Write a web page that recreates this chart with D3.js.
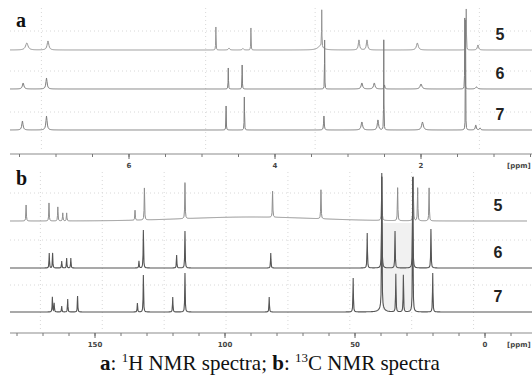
<!DOCTYPE html>
<html><head><meta charset="utf-8">
<script src="https://cdn.jsdelivr.net/npm/d3@7"></script>
<style>body{margin:0;background:#fff}svg{display:block}</style>
</head><body><svg id="c" width="532" height="378"></svg>
<script>
// ---------- data ----------
const spectrumLabels = ["5", "6", "7"];
const hTickLabels = [6, 4, 2];
const hMinorTicks = [7.5, 7, 6.5, 6, 5.5, 5, 4.5, 4, 3.5, 3, 2.5, 2, 1.5, 1, 0.5];
const cTickLabels = [150, 100, 50, 0];
const cMinorTicks = [180, 170, 160, 150, 140, 130, 120, 110, 100, 90, 80, 70, 60, 50, 40, 30, 20, 10, 0, -10];

// peaks: [ppm, relative intensity, half-width (ppm)]
const h1Spec5 = [[7.40, 7, 0.02], [7.11, 9, 0.014], [4.81, 23, 0.0025], [4.63, 2, 0.01], [4.44, 1.5, 0.01],
  [4.33, 22, 0.0025], [3.36, 37, 0.0025], [3.38, 4, 0.04], [2.85, 10, 0.01], [2.74, 10, 0.01],
  [2.05, 7, 0.015], [1.38, 41, 0.0025], [1.22, 5, 0.01]];
const h1Spec6 = [[7.45, 6, 0.012], [7.13, 11, 0.01], [4.64, 21, 0.0025], [4.45, 24, 0.0025],
  [3.32, 49, 0.002], [2.81, 6, 0.012], [2.64, 6, 0.012], [2.50, 4, 0.006], [2.00, 5, 0.015],
  [1.40, 71, 0.002], [1.24, 2, 0.015]];
const h1Spec7 = [[7.46, 9, 0.01], [7.13, 14, 0.01], [4.67, 24, 0.0025], [4.42, 33, 0.0025],
  [3.33, 14, 0.005], [2.81, 8, 0.012], [2.59, 10, 0.01], [2.51, 90, 0.002], [1.98, 8, 0.014],
  [1.39, 110, 0.002], [1.25, 5, 0.008], [1.19, 2, 0.008]];

const c13Spec5 = [[176.5, 16, 0.1], [167.7, 18, 0.1], [164.3, 14, 0.1], [162.4, 8, 0.1], [160.9, 8, 0.1],
  [134.6, 10, 0.1], [131.0, 32, 0.1], [115.4, 36, 0.1], [81.7, 26, 0.1], [63.1, 29, 0.1],
  [39.7, 44, 0.1], [33.6, 33, 0.1], [27.6, 44, 0.1], [25.9, 33, 0.1], [21.5, 33, 0.1]];
const c13Spec5Hump = [90, 4, 25]; // broad background: centre ppm, intensity, sigma ppm
const c13Spec6 = [[167.6, 15, 0.1], [166.3, 15, 0.1], [162.8, 7, 0.1], [160.9, 10, 0.1], [159.3, 10, 0.1],
  [133.1, 7, 0.1], [131.4, 38, 0.1], [118.6, 13, 0.1], [115.4, 37, 0.1], [82.4, 15, 0.1],
  [45.3, 35, 0.1], [39.7, 91, 0.1], [34.6, 37, 0.1], [27.8, 91, 0.1], [20.8, 39, 0.1]];
const c13Spec7 = [[166.4, 15, 0.1], [165.7, 9, 0.1], [162.8, 6, 0.1], [160.5, 13, 0.1], [156.7, 16, 0.1],
  [133.7, 9, 0.1], [131.4, 37, 0.1], [120.1, 15, 0.1], [115.4, 39, 0.1], [83.0, 15, 0.1],
  [50.7, 34, 0.1], [39.7, 135, 0.1], [39.7, 4, 1.0], [34.3, 38, 0.1], [31.4, 37, 0.1],
  [27.8, 135, 0.1], [20.1, 39, 0.1]];

// ---------- layout ----------
const svg = d3.select("#c");
const W = 532;
const xa = d3.scaleLinear().domain([6, 2]).range([129, 421]);
const xb = d3.scaleLinear().domain([150, 0]).range([95, 485]);
const amp = d3.scaleLinear().domain([0, 100]).range([0, 100]);
const baseA = [50, 89, 130];
const baseB = [221, 268, 312];
const axisA = 154, axisB = 333;

function trace(scale, peaks, x0, x1, hump) {
  const xs = d3.range(x0, x1 + 0.001, 0.5);
  peaks.forEach(p => xs.push(scale(p[0])));
  xs.sort((a, b) => a - b);
  return xs.filter(x => x >= x0 && x <= x1).map(x => {
    const ppm = scale.invert(x);
    let y = 0;
    peaks.forEach(([c, h, w]) => { const d = ppm - c; y += h * w * w / (d * d + w * w); });
    if (hump) { const d = ppm - hump[0]; y += hump[1] * Math.exp(-d * d / (2 * hump[2] * hump[2])); }
    return [x, y];
  });
}

// faint dotted grid
const grid = svg.append("g").attr("stroke", "#d8d8d8").attr("stroke-width", 1).attr("stroke-dasharray", "1,3");
[31, 71, 112].forEach(y => grid.append("line").attr("x1", 10).attr("x2", W).attr("y1", y).attr("y2", y));
[7.2, 4.95, 3.45, 1.2].forEach(p => grid.append("line").attr("x1", xa(p)).attr("x2", xa(p)).attr("y1", 8).attr("y2", 150));
[193, 240, 285].forEach(y => grid.append("line").attr("x1", 10).attr("x2", W).attr("y1", y).attr("y2", y));
d3.range(171, -5, -23.8).forEach(p => grid.append("line").attr("x1", xb(p)).attr("x2", xb(p)).attr("y1", 172).attr("y2", 330));

// shaded artefact band between solvent lines (panel b)
svg.append("rect").attr("x", xb(39.5)).attr("width", xb(27.9) - xb(39.5))
  .attr("y", 223).attr("height", 87).attr("fill", "#f1f1f1");

// ---------- panel a ----------
const gA = svg.append("g");
[h1Spec5, h1Spec6, h1Spec7].forEach((pk, i) => {
  const base = baseA[i];
  gA.append("path")
    .datum(trace(xa, pk, 10, W))
    .attr("fill", "none").attr("stroke", i === 0 ? "#969696" : "#7e7e7e").attr("stroke-width", 1)
    .attr("d", d3.line().x(d => d[0]).y(d => base - amp(d[1])));
});

// ---------- panel b ----------
const gB = svg.append("g");
[c13Spec5, c13Spec6, c13Spec7].forEach((pk, i) => {
  const base = baseB[i];
  gB.append("path")
    .datum(trace(xb, pk, 10, i === 0 ? 527 : W, i === 0 ? c13Spec5Hump : null))
    .attr("fill", "none").attr("stroke", i === 0 ? "#8e8e8e" : "#555").attr("stroke-width", i === 0 ? 1 : 1.1)
    .attr("d", d3.line().x(d => d[0]).y(d => base - amp(d[1])));
});

// ---------- axes ----------
function drawAxis(scale, y, minor, major, fmt) {
  const g = svg.append("g");
  g.append("line").attr("x1", 10).attr("x2", W).attr("y1", y).attr("y2", y).attr("stroke", "#8c8c8c").attr("stroke-width", 1.2);
  minor.forEach(t => g.append("line").attr("x1", scale(t)).attr("x2", scale(t)).attr("y1", y).attr("y2", y + 3).attr("stroke", "#777"));
  major.forEach(t => {
    g.append("line").attr("x1", scale(t)).attr("x2", scale(t)).attr("y1", y).attr("y2", y + 5).attr("stroke", "#666");
    g.append("text").attr("x", scale(t)).attr("y", y + 14).attr("text-anchor", "middle")
      .attr("font-family", "DejaVu Sans, sans-serif").attr("font-weight", "bold").attr("font-size", 7)
      .attr("fill", "#444").text(fmt(t));
  });
  g.append("text").attr("x", 507).attr("y", y + 14)
    .attr("font-family", "DejaVu Sans, sans-serif").attr("font-weight", "bold").attr("font-size", 7)
    .attr("fill", "#444").text("[ppm]");
}
drawAxis(xa, axisA, hMinorTicks, hTickLabels, d => d);
drawAxis(xb, axisB, cMinorTicks, cTickLabels, d => d);

// spectrum numbers
const numFont = "Liberation Sans, Arial, sans-serif";
spectrumLabels.forEach((s, i) => {
  svg.append("text").attr("x", 500).attr("y", baseA[i] - 10).attr("text-anchor", "middle")
    .attr("font-family", numFont).attr("font-weight", "bold").attr("font-size", 16).attr("fill", "#222").text(s);
  svg.append("text").attr("x", 498).attr("y", baseB[i] - 10).attr("text-anchor", "middle")
    .attr("font-family", numFont).attr("font-weight", "bold").attr("font-size", 16).attr("fill", "#222").text(s);
});

// panel letters
svg.append("text").attr("x", 16).attr("y", 27).attr("font-family", "Liberation Serif, serif")
  .attr("font-weight", "bold").attr("font-size", 20).attr("fill", "#111").text("a");
svg.append("text").attr("x", 16).attr("y", 185).attr("font-family", "Liberation Serif, serif")
  .attr("font-weight", "bold").attr("font-size", 20).attr("fill", "#111").text("b");

// caption
const cap = svg.append("text").attr("x", 270).attr("y", 370).attr("text-anchor", "middle")
  .attr("font-family", "Liberation Serif, Times New Roman, serif").attr("font-size", 21).attr("fill", "#111");
cap.append("tspan").attr("font-weight", "bold").text("a");
cap.append("tspan").text(": ");
cap.append("tspan").attr("font-size", 13).attr("dy", -8).text("1");
cap.append("tspan").attr("dy", 8).text("H NMR spectra; ");
cap.append("tspan").attr("font-weight", "bold").text("b");
cap.append("tspan").text(": ");
cap.append("tspan").attr("font-size", 13).attr("dy", -8).text("13");
cap.append("tspan").attr("dy", 8).text("C NMR spectra");
</script></body></html>
